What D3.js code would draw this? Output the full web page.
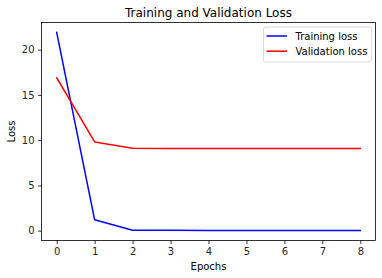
<!DOCTYPE html>
<html><head><meta charset="utf-8">
<script src="https://cdn.jsdelivr.net/npm/d3@7"></script>
<style>
html,body{margin:0;padding:0;background:#fff;}
svg{display:block;font-family:"DejaVu Sans",sans-serif;}
</style></head>
<body>
<svg id="c" width="382" height="278"></svg>
<script>
const epochs = [0,1,2,3,4,5,6,7,8];
const trainingLoss = [21.9, 1.2, 0.05, 0.03, 0.02, 0.02, 0.02, 0.02, 0.02];
const validationLoss = [16.9, 9.8, 9.1, 9.08, 9.08, 9.08, 9.08, 9.08, 9.08];
const xTicks = [0,1,2,3,4,5,6,7,8];
const yTicks = [0,5,10,15,20];
const seriesNames = ["Training loss", "Validation loss"];
const seriesColors = ["#0000ff", "#ff0000"];

const svg = d3.select("#c");
const L = 41.5, R = 375.5, T = 22.5, B = 240.5;
const x = d3.scaleLinear().domain([-0.4, 8.4]).range([L, R]);
const y = d3.scaleLinear().domain([-1.09, 23.0]).range([B, T]);

const line = d3.line().x((d,i)=>x(epochs[i])).y(d=>y(d));
[trainingLoss, validationLoss].forEach((s,k)=>{
  svg.append("path").datum(s).attr("d", line).attr("fill","none")
    .attr("stroke", seriesColors[k]).attr("stroke-width",1.5)
    .attr("stroke-linejoin","round").attr("stroke-linecap","square");
});

const xAxis = d3.axisBottom(x).tickValues(xTicks).tickSize(3.5).tickPadding(3.5).tickFormat(d3.format("d"));
const gx = svg.append("g").attr("transform",`translate(0,${B})`).call(xAxis);
const yAxis = d3.axisLeft(y).tickValues(yTicks).tickSize(3.5).tickPadding(3.5).tickFormat(d3.format("d"));
const gy = svg.append("g").attr("transform",`translate(${L},0)`).call(yAxis);
[gx,gy].forEach(g=>{
  g.select(".domain").remove();
  g.selectAll("text").attr("font-size",10).attr("fill","#262626").attr("font-family","DejaVu Sans");
  g.selectAll("line").attr("stroke","#000").attr("stroke-width",0.8);
});

svg.append("rect").attr("x",L).attr("y",T).attr("width",R-L).attr("height",B-T)
  .attr("fill","none").attr("stroke","#000").attr("stroke-width",0.8);

svg.append("text").attr("x",(L+R)/2).attr("y",T-6).attr("text-anchor","middle")
  .attr("font-size",12).attr("fill","#000").text("Training and Validation Loss");
svg.append("text").attr("x",(L+R)/2).attr("y",270).attr("text-anchor","middle")
  .attr("font-size",10).attr("fill","#000").text("Epochs");
svg.append("text").attr("transform",`translate(15,${(T+B)/2}) rotate(-90)`).attr("text-anchor","middle")
  .attr("font-size",10).attr("fill","#000").text("Loss");

// legend
const lg = svg.append("g");
lg.append("rect").attr("x",263.5).attr("y",27).attr("width",108).attr("height",35).attr("rx",2)
  .attr("fill","#fff").attr("fill-opacity",0.8).attr("stroke","#d0d0d0").attr("stroke-width",0.8);
seriesNames.forEach((n,k)=>{
  const yy = 36 + k*15.2;
  lg.append("line").attr("x1",266.5).attr("x2",287).attr("y1",yy).attr("y2",yy)
    .attr("stroke",seriesColors[k]).attr("stroke-width",1.5);
  lg.append("text").attr("x",295.5).attr("y",yy+3.5).attr("font-size",10).attr("fill","#000").text(n);
});
</script>
</body></html>
